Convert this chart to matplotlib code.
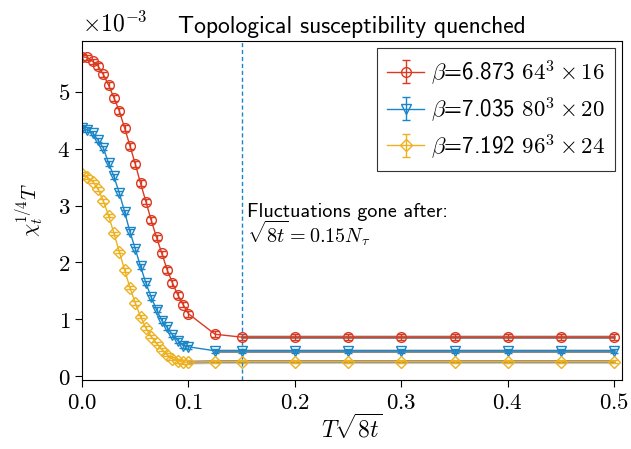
import numpy as np
import matplotlib.pyplot as plt
from matplotlib.ticker import FuncFormatter, MultipleLocator

plt.rcParams['mathtext.fontset'] = 'cm'
plt.rcParams['font.family'] = 'cmss10'
plt.rcParams['axes.unicode_minus'] = False

######## data (chi^1/4 T in units of 1e-3)
tsq = [0.0, 0.005, 0.01, 0.015, 0.02, 0.025, 0.03, 0.035, 0.04, 0.045, 0.05,
       0.055, 0.06, 0.065, 0.07, 0.075, 0.08, 0.085, 0.09, 0.095, 0.1,
       0.125, 0.15, 0.2, 0.25, 0.3, 0.35, 0.4, 0.45, 0.5]

chi_16 = [5.61, 5.60, 5.53, 5.45, 5.30, 5.11, 4.89, 4.66, 4.36, 4.05, 3.73,
          3.39, 3.07, 2.74, 2.44, 2.16, 1.87, 1.64, 1.43, 1.26, 1.10,
          0.74, 0.69, 0.69, 0.69, 0.69, 0.69, 0.69, 0.69, 0.69]
chi_20 = [4.36, 4.33, 4.27, 4.15, 4.01, 3.74, 3.51, 3.22, 2.89, 2.54, 2.24,
          1.93, 1.64, 1.39, 1.17, 0.98, 0.86, 0.73, 0.63, 0.54, 0.52,
          0.45, 0.45, 0.45, 0.45, 0.45, 0.45, 0.45, 0.45, 0.45]
chi_24 = [3.55, 3.50, 3.42, 3.29, 3.08, 2.82, 2.51, 2.19, 1.87, 1.56, 1.29,
          1.05, 0.85, 0.70, 0.58, 0.47, 0.38, 0.31, 0.27, 0.25, 0.25,
          0.26, 0.26, 0.26, 0.26, 0.26, 0.26, 0.26, 0.26, 0.26]
err = [0.05, 0.04, 0.03]
flat_start = [0.15, 0.125, 0.1]

labels = [r'$\beta$=6.873 $64^3\times16$',
          r'$\beta$=7.035 $80^3\times20$',
          r'$\beta$=7.192 $96^3\times24$']
colors = ['#DC3A20', '#1A86C8', '#EDB120']
markers = ['o', 'v', 'D']
msizes = [7, 7, 6]

fig = plt.figure(figsize=(6.31, 4.49), dpi=100)
ax = fig.add_axes([0.130, 0.154, 0.856, 0.755])

x = np.array(tsq)
for y, e, x0, lab, c, m, ms in zip([chi_16, chi_20, chi_24], err, flat_start,
                                   labels, colors, markers, msizes):
    y = np.array(y) * 1e-3
    sel = x >= x0 - 1e-9
    ax.fill_between(x[sel], y[sel] - 0.035e-3, y[sel] + 0.035e-3,
                    color='gray', alpha=0.3, lw=0)
    ax.plot(x[sel], y[sel], color='#555555', lw=2.2, alpha=0.6)
    ax.errorbar(x, y, yerr=e * 1e-3, color=c, marker=m, ms=ms, mfc='none',
                mew=1.0, lw=1.0, capsize=3, elinewidth=1.0, label=lab)

ax.axvline(0.15, color='#1A86C8', ls=(0, (3, 2)), lw=1.0)
ax.text(0.155, 3.05e-3, 'Fluctuations gone after:\n' + r'$\sqrt{8t}=0.15N_\tau$',
        fontsize=14.5, va='top', ha='left', linespacing=0.9)

ax.set_xlim(0.0, 0.5075)
ax.set_ylim(-0.06e-3, 5.89e-3)
ax.xaxis.set_major_locator(MultipleLocator(0.1))
ax.yaxis.set_major_locator(MultipleLocator(1e-3))
ax.xaxis.set_major_formatter(FuncFormatter(lambda v, p: r'$%.1f$' % v))
ax.yaxis.set_major_formatter(FuncFormatter(lambda v, p: r'$%d$' % round(v * 1e3)))
ax.tick_params(labelsize=16.5, length=5)
ax.text(0.0, 1.012, r'$\times10^{-3}$', transform=ax.transAxes, fontsize=17,
        ha='left', va='bottom')

ax.set_xlabel(r'$T\sqrt{8t}$', fontsize=17, labelpad=0)
ax.set_ylabel(r'$\chi_t^{1/4}T$', fontsize=15, labelpad=8)
ax.set_title('Topological susceptibility quenched', fontsize=17, pad=6)

leg = ax.legend(loc='upper right', fontsize=16.5, fancybox=False, framealpha=1,
                edgecolor='#333333', handlelength=1.6, borderpad=0.45,
                labelspacing=0.35, handletextpad=0.3, borderaxespad=0.3)
leg.get_frame().set_linewidth(0.8)

plt.savefig('out.png', dpi=100)
